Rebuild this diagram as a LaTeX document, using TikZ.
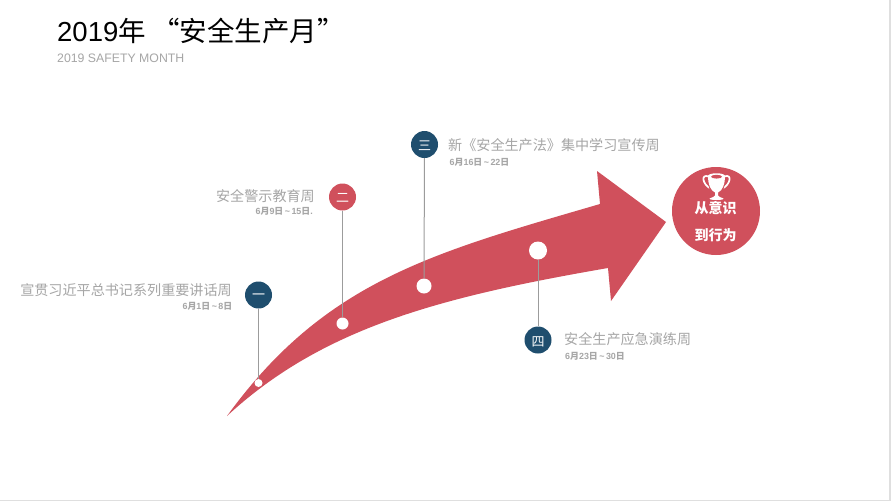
\documentclass[tikz,border=0pt]{standalone}
\usepackage{fontspec}
\setmainfont{Liberation Sans}
\newfontfamily\cjk{Noto Sans CJK SC}
\newcommand{\fsz}[1]{\fontsize{#1}{#1}\selectfont}
\definecolor{brandred}{HTML}{D0505C}
\definecolor{brandblue}{HTML}{1F4E6E}
\definecolor{labelgrey}{HTML}{A6A6A6}
\definecolor{stemgrey}{HTML}{9C9C9C}
\tikzset{
  x=1pt,y=-1pt,
  badge/.style={circle,minimum size=27pt,inner sep=0pt},
  bluebadge/.style={badge,fill=brandblue},
  redbadge/.style={badge,fill=brandred},
  badgetext/.style={text=white,inner sep=0pt,font=\cjk\fsz{13}},
  dot/.style={circle,fill=white,inner sep=0pt},
  stem/.style={draw=stemgrey,line width=1pt},
  maintext/.style={text=labelgrey,inner sep=0pt,font=\cjk\fsz{14.1}},
  datetext/.style={text=labelgrey,inner sep=0pt,font=\bfseries\fsz{8.9}},
  goaltext/.style={text=white,inner sep=0pt,font=\cjk\bfseries\fsz{14}},
}
\begin{document}
\begin{tikzpicture}
\useasboundingbox (0,0) rectangle (891,501);
\fill[white] (0,0) rectangle (891,501);
\fill[gray!25] (889,0) rectangle (891,501);
\fill[gray!25] (0,500) rectangle (891,501);
% arrow
\fill[brandred] (227,416) .. controls (325,281) and (432,253) .. (600,204)
  -- (597,171) -- (666,222) -- (611,301) -- (608,268)
  .. controls (440,297) and (322,328) .. (227,416) -- cycle;
% title
\node[anchor=base west,inner sep=0pt,text=black] (title) at (57,41) {\fsz{27.5}2019{\cjk 年 “安全生产月”}};
\node[anchor=base west,inner sep=0pt,text=labelgrey] (subtitle) at (57,62) {\fsz{12.3}2019 SAFETY MONTH};
% dots and badges
\node[dot,minimum size=8pt] (d1) at (258.5,383) {};
\node[dot,minimum size=12pt] (d2) at (342.5,323.5) {};
\node[dot,minimum size=15pt] (d3) at (424,286) {};
\node[dot,minimum size=18pt] (d4) at (538,250.5) {};
\node[bluebadge] (b1) at (258.5,295) {};
\node[redbadge] (b2) at (342.5,197) {};
\node[bluebadge] (b3) at (424.5,144.5) {};
\node[bluebadge] (b4) at (538,340) {};
\node[badgetext] (n1) at (258.5,296.5) {一};
\node[badgetext] (n2) at (342.5,198) {二};
\node[badgetext] (n3) at (424.5,145.5) {三};
\node[badgetext] (n4) at (538,341.5) {四};
\draw[stem] (b1) -- (d1);
\draw[stem] (b2) -- (d2);
\draw[stem] (b3) -- (d3);
\draw[stem] (b4) -- (d4);
% labels
\node[maintext,anchor=base east] (t1) at (232,295) {宣贯习近平总书记系列重要讲话周};
\node[datetext,anchor=base east] (s1) at (232.5,309) {6{\cjk 月}1{\cjk 日}\,\char`\~\,8{\cjk 日}};
\node[maintext,anchor=base east] (t2) at (315,201) {安全警示教育周};
\node[datetext,anchor=base east] (s2) at (313,214) {6{\cjk 月}9{\cjk 日}\,\char`\~\,15{\cjk 日}.};
\node[maintext,anchor=base west] (t3) at (448,150) {新《安全生产法》集中学习宣传周};
\node[datetext,anchor=base west] (s3) at (449.5,165) {6{\cjk 月}16{\cjk 日}\,\char`\~\,22{\cjk 日}};
\node[maintext,anchor=base west] (t4) at (564,344) {安全生产应急演练周};
\node[datetext,anchor=base west] (s4) at (565,359) {6{\cjk 月}23{\cjk 日}\,\char`\~\,30{\cjk 日}};
% goal circle
\node[circle,fill=brandred,minimum size=88pt,inner sep=0pt] (goal) at (716,211) {};
\node[goaltext] (g1) at (715.5,208.5) {从意识};
\node[goaltext] (g2) at (715.5,235) {到行为};
% trophy
\begin{scope}[xshift=1.5pt,yshift=-0.5pt]
\draw[white,line width=1.7pt] (707,176) .. controls (699,173) and (701,184) .. (709,188);
\draw[white,line width=1.7pt] (723,176) .. controls (731,173) and (729,184) .. (721,188);
\fill[brandred] (705.5,178) -- (724.5,178) -- (722,189) -- (708,189) -- cycle;
\fill[white] (706.5,175) .. controls (709,172) and (721,172) .. (723.5,175)
  .. controls (723.5,184) and (721,190) .. (716.5,192) -- (716.5,195)
  .. controls (717,196) and (719,197) .. (722,198) .. controls (723,200) and (707,200) .. (708,198)
  .. controls (711,197) and (713,196) .. (713.5,195) -- (713.5,192)
  .. controls (709,190) and (706.5,184) .. (706.5,175) -- cycle;
\fill[brandred] (715,176.2) ellipse (5.5 and 1.9);
\end{scope}
\end{tikzpicture}
\end{document}
